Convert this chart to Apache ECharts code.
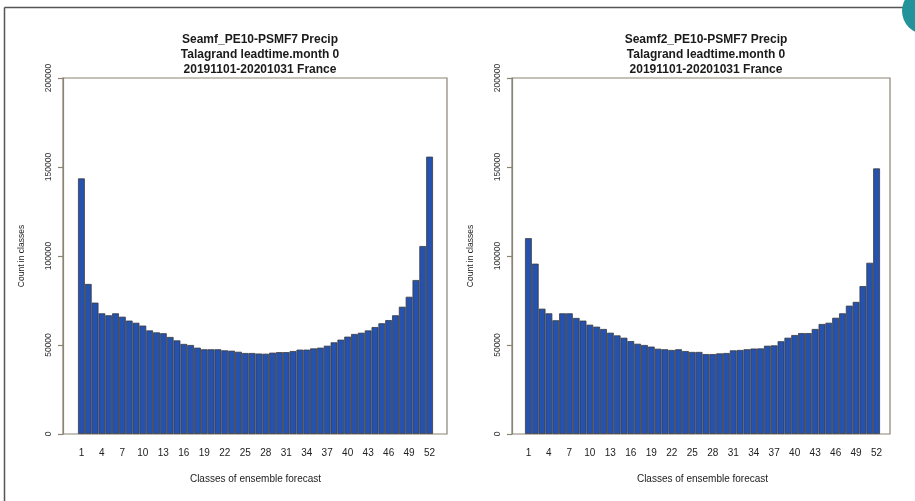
<!DOCTYPE html>
<html>
<head>
<meta charset="utf-8">
<script src="https://cdn.jsdelivr.net/npm/echarts@6/dist/echarts.min.js"></script>
<style>
html,body{margin:0;padding:0;background:#fff;}
#chart{width:915px;height:501px;}
</style>
</head>
<body>
<div id="chart"></div>
<script>
// ---- data ----
const categories = Array.from({length: 52}, (_, i) => String(i + 1));
const seamfCounts = [
  143600, 84300, 73800, 67800, 66700, 67800, 65900, 63700, 62500, 60900,
  58200, 57100, 56600, 54500, 52600, 50600, 50000, 48500, 47600, 47600,
  47600, 47000, 46800, 46200, 45500, 45500, 45200, 45100, 45700, 46000,
  46000, 46600, 47400, 47400, 48100, 48500, 49600, 51500, 53000, 54700,
  56200, 56900, 58200, 60100, 62200, 64000, 66700, 71500, 77100, 86500,
  105600, 155800
];
const seamf2Counts = [
  110000, 95700, 70400, 67800, 63900, 67800, 67800, 65200, 63700, 61400,
  60300, 59000, 56900, 55400, 54100, 52200, 50700, 50000, 49100, 47900,
  47600, 47200, 47600, 46600, 46100, 46100, 44900, 44900, 45300, 45500,
  47000, 47200, 47600, 48000, 48100, 49600, 49800, 52100, 54100, 55600,
  56700, 56700, 59000, 61800, 62500, 65300, 67800, 72100, 74200, 83100,
  96200, 149200
];
const panelTitles = [
  "Seamf_PE10-PSMF7 Precip\nTalagrand leadtime.month 0\n20191101-20201031 France",
  "Seamf2_PE10-PSMF7 Precip\nTalagrand leadtime.month 0\n20191101-20201031 France"
];
const yTicks = {min: 0, max: 200000, interval: 50000};
const yAxisTitle = "Count in classes";
const xAxisTitle = "Classes of ensemble forecast";

// ---- styles ----
const frameColor = '#8a8474';
const textColor = '#222';
const barColor = '#2552ae';
const barBorder = '#3b3b3b';
const font = 'Liberation Sans, Arial, sans-serif';

const panels = [
  {frame: {left: 63, right: 468, top: 78, bottom: 67}, bars: {left: 78, right: 482, top: 78, bottom: 67}, center: 255, data: seamfCounts, title: panelTitles[0]},
  {frame: {left: 512, right: 25, top: 78, bottom: 67}, bars: {left: 525, right: 35, top: 78, bottom: 67}, center: 701, data: seamf2Counts, title: panelTitles[1]}
];

const grid = [], xAxis = [], yAxis = [], series = [], title = [];
panels.forEach((p) => {
  const gFrame = grid.length;
  grid.push(Object.assign({show: true, borderColor: frameColor, borderWidth: 1.2, backgroundColor: 'transparent'}, p.frame));
  const gBars = grid.length;
  grid.push(Object.assign({}, p.bars));

  xAxis.push({gridIndex: gFrame, type: 'value', show: false, min: 0, max: 1});
  yAxis.push({
    gridIndex: gFrame, type: 'value', min: yTicks.min, max: yTicks.max, interval: yTicks.interval,
    axisLine: {show: true, lineStyle: {color: frameColor, width: 1.2}},
    axisTick: {show: true, length: 5, lineStyle: {color: frameColor, width: 1.2}},
    splitLine: {show: false},
    axisLabel: {rotate: 90, margin: 10, fontSize: 8.5, color: '#333', fontFamily: font, formatter: (v) => String(v)},
    name: yAxisTitle, nameLocation: 'middle', nameGap: 37, nameRotate: 90,
    nameTextStyle: {fontSize: 8.5, color: textColor, fontFamily: font}
  });

  xAxis.push({
    gridIndex: gBars, type: 'category', data: categories, boundaryGap: true,
    axisLine: {show: false}, axisTick: {show: false},
    axisLabel: {interval: 2, margin: 14, fontSize: 10, color: textColor, fontFamily: font},
    name: xAxisTitle, nameLocation: 'middle', nameGap: 40,
    nameTextStyle: {fontSize: 10, color: textColor, fontFamily: font}
  });
  yAxis.push({gridIndex: gBars, type: 'value', show: false, min: yTicks.min, max: yTicks.max, interval: yTicks.interval});

  series.push({
    type: 'bar', xAxisIndex: xAxis.length - 1, yAxisIndex: yAxis.length - 1,
    data: p.data, barCategoryGap: '0%',
    itemStyle: {color: barColor, borderColor: barBorder, borderWidth: 0.8},
    silent: true, animation: false
  });

  title.push({
    text: p.title, left: p.center, top: 27, textAlign: 'center',
    textStyle: {fontSize: 12, fontWeight: 'bold', color: '#1a1a1a', lineHeight: 15, fontFamily: font}
  });
});

const chart = echarts.init(document.getElementById('chart'), null, {renderer: 'canvas'});
chart.setOption({
  backgroundColor: '#fff',
  animation: false,
  title, grid, xAxis, yAxis, series,
  graphic: [
    {type: 'line', shape: {x1: 4.5, y1: 7.5, x2: 905, y2: 7.5}, style: {stroke: '#555', lineWidth: 1.5}, silent: true},
    {type: 'line', shape: {x1: 4.5, y1: 7.5, x2: 4.5, y2: 501}, style: {stroke: '#555', lineWidth: 1.5}, silent: true},
    {type: 'circle', shape: {cx: 925, cy: 11, r: 23}, style: {fill: '#23939b'}, silent: true}
  ]
});
</script>
</body>
</html>
